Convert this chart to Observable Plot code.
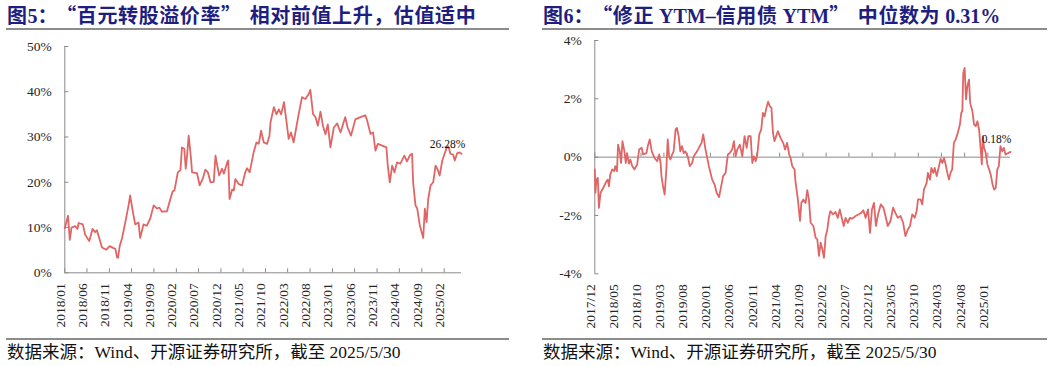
<!DOCTYPE html>
<html><head><meta charset="utf-8">
<script src="https://cdn.jsdelivr.net/npm/d3@7"></script>
<script src="https://cdn.jsdelivr.net/npm/@observablehq/plot@0.6"></script>
<style>
html,body{margin:0;padding:0;background:#fff;}
#wrap{position:relative;width:1057px;height:366px;overflow:hidden;background:#fff;}
.title{position:absolute;top:3px;font-family:"Noto Sans CJK SC",sans-serif;font-weight:700;font-size:20px;line-height:24px;color:#1e1e80;letter-spacing:0.6px;white-space:nowrap;}
.lat{font-family:"Liberation Serif",serif;letter-spacing:0;}
.ql{padding-left:8px;}
.qr{padding-right:8px;}
.rule{position:absolute;height:2px;background:#8c8c8c;}
.foot{position:absolute;top:342px;font-family:"Liberation Serif","Noto Sans CJK SC",serif;font-size:17.5px;line-height:20px;color:#111;white-space:nowrap;}
.chart{position:absolute;top:32px;}
</style></head>
<body><div id="wrap">
<div class="title" style="left:7px">图<span class="lat">5</span>：<span class="ql">“</span>百元转股溢价率<span class="qr">”</span>相对前值上升，估值适中</div>
<div class="rule" style="left:6px;width:503px;top:28px"></div>
<div id="c1" class="chart" style="left:0px"></div>
<div class="rule" style="left:6px;width:503px;top:338px;height:1.5px"></div>
<div class="foot" style="left:7px">数据来源：Wind、开源证券研究所，截至 2025/5/30</div>

<div class="title" style="left:543px">图<span class="lat">6</span>：<span class="ql">“</span>修正<span class="lat"> YTM–</span>信用债<span class="lat"> YTM</span><span class="qr">”</span>中位数为<span class="lat"> 0.31%</span></div>
<div class="rule" style="left:542px;width:505px;top:28px"></div>
<div id="c2" class="chart" style="left:530px"></div>
<div class="rule" style="left:542px;width:505px;top:338px;height:1.5px"></div>
<div class="foot" style="left:543px">数据来源：Wind、开源证券研究所，截至 2025/5/30</div>
</div>
<script>
// ---------- Chart 1: 百元转股溢价率 (%) ----------
const premDates = ["2018-01-01","2018-01-23","2018-02-04","2018-02-16","2018-03-13","2018-03-29","2018-04-05","2018-05-04","2018-05-20","2018-06-17","2018-07-09","2018-07-27","2018-08-08","2018-09-12","2018-10-11","2018-11-03","2018-11-26","2018-12-12","2018-12-23","2018-12-30",
"2019-01-11","2019-01-27","2019-02-18","2019-03-12","2019-03-23","2019-03-30","2019-04-10","2019-04-26","2019-05-19","2019-05-30","2019-06-22","2019-07-15","2019-08-07","2019-08-30","2019-09-22","2019-10-08","2019-10-26","2019-11-29","2019-12-22",
"2020-01-07","2020-01-19","2020-02-11","2020-02-29","2020-03-10","2020-03-26","2020-04-05","2020-04-14","2020-04-25","2020-05-11","2020-05-18","2020-06-21","2020-07-09","2020-07-30","2020-08-17","2020-09-03","2020-09-21","2020-10-13","2020-10-25","2020-11-06","2020-11-19","2020-12-09","2020-12-21",
"2021-01-13","2021-01-20","2021-01-29","2021-02-16","2021-02-27","2021-03-09","2021-04-01","2021-04-24","2021-05-16","2021-05-28","2021-06-15","2021-07-12","2021-07-31","2021-08-16","2021-09-01","2021-09-19","2021-10-12","2021-10-28","2021-11-04","2021-11-27","2021-12-15","2021-12-31",
"2022-01-16","2022-02-04","2022-02-22","2022-03-08","2022-03-24","2022-04-11","2022-04-23","2022-05-15","2022-06-07","2022-06-30","2022-07-23","2022-08-03","2022-08-21","2022-09-07","2022-09-23","2022-10-11","2022-10-29","2022-11-14","2022-11-30","2022-12-18",
"2023-01-10","2023-02-02","2023-02-25","2023-03-29","2023-04-14","2023-05-07","2023-06-06","2023-07-10","2023-08-13","2023-08-25","2023-09-17","2023-10-05","2023-10-21","2023-11-06","2023-12-06",
"2024-01-04","2024-01-13","2024-01-27","2024-02-12","2024-02-28","2024-03-16","2024-04-08","2024-05-05","2024-05-23","2024-06-11","2024-06-27","2024-07-04","2024-07-20","2024-08-01","2024-08-19","2024-08-31","2024-09-11","2024-09-22","2024-10-04","2024-10-15","2024-10-31","2024-11-18","2024-12-04","2024-12-16",
"2025-01-01","2025-01-19","2025-02-07","2025-02-23","2025-03-04","2025-03-15","2025-04-03","2025-04-14","2025-04-30","2025-05-16","2025-05-30"];
const premValues = [9.85,12.6,7.3,10.0,10.3,9.7,11.0,10.7,8.4,7.0,9.7,9.0,9.4,5.6,5.1,5.9,5.5,5.3,3.45,3.3,
6.0,7.7,11.2,14.9,17.1,15.6,13.5,10.7,11.1,7.7,10.7,10.4,12.0,14.9,14.2,14.4,13.5,13.6,16.3,
18.0,18.2,22.2,22.7,27.7,27.4,23.0,25.9,30.3,25.2,22.2,22.0,19.3,20.8,22.8,22.2,20.0,20.1,25.9,23.7,21.5,23.0,21.9,
24.4,24.8,16.3,18.4,18.2,20.7,19.6,19.3,22.2,23.1,22.2,26.6,28.8,28.5,31.4,28.8,28.5,30.3,33.2,36.6,35.0,36.1,
35.0,37.7,33.2,29.6,31.0,28.8,31.0,35.0,38.8,38.4,39.5,40.4,35.1,34.4,32.5,35.6,32.3,30.6,32.8,27.7,
32.1,33.0,31.0,34.4,32.1,30.3,33.9,34.4,34.8,33.7,30.7,31.0,27.0,28.5,28.1,
27.7,23.7,20.0,23.7,22.2,24.4,24.1,25.9,24.6,25.9,26.3,20.0,14.9,14.2,10.4,9.0,7.7,14.2,11.2,16.3,19.3,20.0,23.7,23.0,
21.5,24.8,26.6,28.1,27.7,26.3,26.1,24.8,26.4,26.6,26.28];
const premTickLabels = ["2018/01","2018/06","2018/11","2019/04","2019/09","2020/02","2020/07","2020/12","2021/05","2021/10","2022/03","2022/08","2023/01","2023/06","2023/11","2024/04","2024/09","2025/02"];
const premYTicks = [0,10,20,30,40,50];
const premLastLabel = "26.28%";

// ---------- Chart 2: 修正YTM - 信用债YTM 中位数 (%) ----------
const ytmDates = ["2017-12-01","2017-12-05","2017-12-12","2017-12-21","2017-12-28","2018-01-08","2018-01-26","2018-02-10","2018-02-24","2018-03-04","2018-03-13","2018-03-26","2018-04-08","2018-04-15","2018-04-26","2018-05-03","2018-05-14","2018-05-23","2018-06-01","2018-06-14","2018-06-23","2018-07-01","2018-07-14","2018-07-23","2018-08-03","2018-08-19","2018-09-06","2018-09-19","2018-10-06","2018-10-15","2018-11-06","2018-11-15","2018-11-28","2018-12-11","2018-12-29",
"2019-01-16","2019-01-29","2019-02-07","2019-02-13","2019-02-23","2019-03-06","2019-03-17","2019-03-26","2019-04-04","2019-04-13","2019-04-24","2019-05-04","2019-05-17","2019-05-26","2019-06-06","2019-06-17","2019-06-28","2019-07-09","2019-07-20","2019-08-05","2019-08-18","2019-09-03","2019-09-14","2019-10-05","2019-10-23","2019-11-04","2019-11-15","2019-11-30","2019-12-22",
"2020-01-13","2020-01-29","2020-02-11","2020-02-27","2020-03-12","2020-03-25","2020-04-10","2020-04-25","2020-05-08","2020-05-23","2020-06-04","2020-06-15","2020-06-26","2020-07-13","2020-07-29","2020-08-13","2020-08-27","2020-09-07","2020-09-22","2020-10-03","2020-10-14","2020-10-25","2020-11-05","2020-11-18","2020-12-01","2020-12-12","2020-12-23",
"2021-01-04","2021-01-15","2021-01-26","2021-02-06","2021-02-16","2021-02-26","2021-03-09","2021-03-20","2021-04-07","2021-04-24","2021-05-07","2021-05-20","2021-06-03","2021-06-12","2021-06-23","2021-07-08","2021-07-14","2021-07-30","2021-08-13","2021-08-22","2021-09-04","2021-09-19","2021-09-30","2021-10-11","2021-10-22","2021-11-09","2021-11-24","2021-12-05","2021-12-16","2021-12-27",
"2022-01-07","2022-01-18","2022-01-29","2022-02-09","2022-02-19","2022-03-01","2022-03-19","2022-04-04","2022-04-19","2022-05-02","2022-05-17","2022-05-28","2022-06-09","2022-06-24","2022-07-07","2022-07-22","2022-08-14","2022-09-05","2022-09-21","2022-10-04","2022-10-19","2022-11-04","2022-11-17","2022-11-30","2022-12-13","2022-12-26",
"2023-01-09","2023-01-27","2023-02-13","2023-02-27","2023-03-14","2023-04-01","2023-04-18","2023-05-03","2023-05-19","2023-06-06","2023-06-23","2023-07-08","2023-07-24","2023-08-07","2023-08-22","2023-09-07","2023-09-20","2023-09-29","2023-10-16","2023-10-27","2023-11-07","2023-11-25","2023-12-03","2023-12-17","2023-12-26",
"2024-01-08","2024-01-17","2024-01-30","2024-02-14","2024-02-25","2024-03-07","2024-03-18","2024-03-29","2024-04-09","2024-04-20","2024-04-30","2024-05-11","2024-05-22","2024-06-03","2024-06-14","2024-07-01","2024-07-10","2024-07-17","2024-07-23","2024-08-01","2024-08-10","2024-08-19","2024-08-30","2024-09-06","2024-09-15","2024-09-21","2024-10-02","2024-10-13","2024-10-24","2024-11-04","2024-11-15","2024-11-22","2024-11-29","2024-12-07","2024-12-18","2024-12-29",
"2025-01-09","2025-01-20","2025-02-01","2025-02-11","2025-02-22","2025-03-04","2025-03-14","2025-03-25","2025-04-05","2025-04-16","2025-04-27","2025-05-30"];
const ytmValues = [-0.42,-1.22,-0.77,-0.71,-1.74,-1.22,-1.05,-0.88,-0.77,-1.0,-0.6,-0.42,-0.48,-0.31,-0.48,0.43,0.2,-0.2,0.55,0.2,-0.2,0.14,-0.22,-0.08,-0.29,-0.42,-0.25,0.26,0.32,0.09,0.14,0.38,0.61,0.2,-0.03,
-0.14,0.09,-0.2,-0.65,-1.0,-1.28,-0.42,0.61,0.03,-0.08,0.09,0.2,0.95,1.0,0.72,0.2,0.38,0.14,0.2,0.03,-0.31,-0.2,0.03,0.2,0.38,0.49,0.78,0.26,-0.31,
-0.77,-0.94,-1.22,-1.37,-1.0,-0.65,-0.54,0.09,0.14,0.26,0.55,0.03,0.26,0.43,0.03,0.72,0.32,0.72,0.72,-0.2,0.03,-0.14,0.09,0.78,0.95,1.52,1.4,
1.69,1.9,1.75,1.69,0.83,0.55,0.72,0.89,0.66,0.49,0.26,0.49,0.09,-0.03,-0.31,-0.42,-0.82,-1.45,-2.19,-1.57,-1.45,-1.57,-1.13,-1.45,-2.25,-2.36,-2.77,-2.82,-3.39,-2.93,
-3.16,-3.45,-2.71,-2.48,-2.08,-1.85,-1.96,-1.88,-2.08,-1.79,-2.13,-2.36,-2.08,-2.25,-2.08,-2.11,-2.02,-1.96,-1.91,-1.82,-2.08,-1.79,-2.6,-1.79,-1.57,-2.36,
-1.96,-1.62,-1.73,-2.02,-2.36,-2.19,-1.73,-1.91,-2.08,-2.02,-2.25,-2.71,-2.48,-2.36,-1.96,-2.08,-1.85,-1.45,-1.45,-1.62,-1.11,-0.88,-0.54,-0.77,-0.37,
-0.54,-0.37,-0.65,-0.31,-0.06,-0.2,-0.03,-0.25,-0.54,-0.77,-0.54,-0.42,0.49,0.61,0.78,1.12,1.52,1.58,2.89,3.06,1.98,2.43,2.66,1.87,1.69,1.58,1.12,1.06,1.23,0.95,0.26,-0.25,0.72,0.32,0.14,-0.25,
-0.42,-0.6,-0.94,-1.11,-1.05,-0.42,-0.31,0.38,0.2,0.32,0.09,0.18];
const ytmTickLabels = ["2017/12","2018/05","2018/10","2019/03","2019/08","2020/01","2020/06","2020/11","2021/04","2021/09","2022/02","2022/07","2022/12","2023/05","2023/10","2024/03","2024/08","2025/01"];
const ytmYTicks = [-4,-2,0,2,4];
const ytmLastLabel = "0.18%";

// ---------- helpers ----------
const parseDay = s => new Date(s + "T00:00:00Z");
const parseTick = s => { const [y, m] = s.split("/").map(Number); return new Date(Date.UTC(y, m - 1, 1)); };
const LINE = "#e06666", AXIS = "#8a8a8a", TXT = "#262626", FONT = "'Liberation Serif', serif";

function panel({dates, values, tickLabels, yTicks, yDomain, xDomain, lastLabel, marginLeft, marginRight, marginTop, marginBottom, baseline, labelDx, labelDy}) {
  const W = 527, H = 305;
  const data = dates.map((d, i) => ({date: parseDay(d), value: values[i]}));
  const tickDates = tickLabels.map(parseTick);
  const frameW = W - marginLeft - marginRight;
  const frameH = H - marginTop - marginBottom;
  const last = data[data.length - 1];
  return Plot.plot({
    width: W, height: H, marginLeft, marginRight, marginTop, marginBottom,
    style: {fontFamily: FONT, fontSize: "13.5px", background: "transparent", color: TXT, overflow: "visible"},
    x: {type: "utc", domain: xDomain, axis: null},
    y: {domain: yDomain, axis: null},
    marks: [
      // y tick labels
      Plot.text(yTicks, {y: d => d, text: d => d + "%", frameAnchor: "left", textAnchor: "end", dx: -13, fill: TXT, fontSize: 13.5, fontFamily: FONT}),
      // inward y ticks
      Plot.ruleY(yTicks, {stroke: AXIS, insetRight: frameW - 4}),
      // y axis line
      Plot.ruleX([xDomain[0]], {stroke: AXIS}),
      // horizontal baseline (x axis)
      Plot.ruleY([baseline], {stroke: AXIS}),
      // inward x ticks on baseline
      Plot.ruleX(tickDates, {y1: baseline, y2: baseline + (yDomain[1] - yDomain[0]) * 4 / frameH, stroke: AXIS}),
      // rotated tick labels at bottom
      Plot.text(tickLabels, {x: parseTick, text: d => d, frameAnchor: "bottom", rotate: -90, textAnchor: "end", dy: 10.5, fill: TXT, fontSize: 13.5, fontFamily: FONT}),
      Plot.line(data, {x: "date", y: "value", stroke: LINE, strokeWidth: 1.8, strokeLinejoin: "round"}),
      Plot.text([last], {x: "date", y: "value", text: () => lastLabel, dx: labelDx, dy: labelDy, fontSize: 11.5, fill: "#111", fontFamily: FONT})
    ]
  });
}

document.getElementById("c1").appendChild(panel({
  dates: premDates, values: premValues, tickLabels: premTickLabels, yTicks: premYTicks,
  yDomain: [0, 50], xDomain: [parseDay("2018-01-01"), parseDay("2025-05-30")], lastLabel: premLastLabel,
  marginLeft: 64.3, marginRight: 66, marginTop: 14, marginBottom: 64.7, baseline: 0, labelDx: -14, labelDy: -10
}));
document.getElementById("c2").appendChild(panel({
  dates: ytmDates, values: ytmValues, tickLabels: ytmTickLabels, yTicks: ytmYTicks,
  yDomain: [-4, 4], xDomain: [parseDay("2017-12-01"), parseDay("2025-05-30")], lastLabel: ytmLastLabel,
  marginLeft: 64.3, marginRight: 47, marginTop: 8, marginBottom: 63.7, baseline: 0, labelDx: -14, labelDy: -13
}));
</script>
</body></html>
